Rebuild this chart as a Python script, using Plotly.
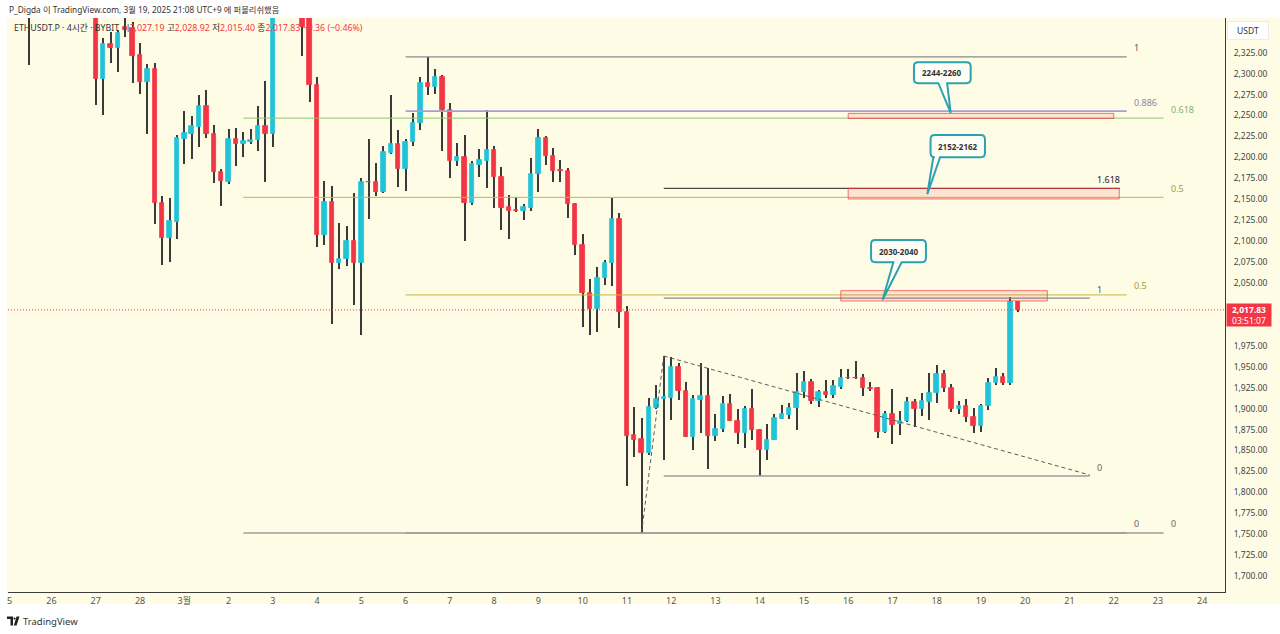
import plotly.graph_objects as go
import pandas as pd

# ---------------- data (4h candles, ETHUSDT.P, BYBIT, UTC+9) ----------------
first_bar = "2025-02-25 08:00"
opens = [
    2430, 2405, 2385, 2420, 2445, 2430, 2410, 2425, 2415, 2400,
    2405, 2294, 2335, 2330, 2356, 2354, 2322, 2290, 2306, 2146,
    2104, 2123, 2222, 2228, 2236, 2261, 2228, 2183, 2171, 2222,
    2216, 2218, 2221, 2238, 2228, 2480, 2510, 2470, 2440, 2368,
    2286, 2107, 2147, 2074, 2079, 2100, 2074, 2171, 2170, 2159,
    2205, 2216, 2186, 2218, 2241, 2289, 2284, 2296, 2256, 2196,
    2201, 2145, 2191, 2196, 2209, 2176, 2141, 2137, 2136, 2140,
    2180, 2223, 2202, 2184.5, 2184, 2144, 2095, 2038, 2019, 2056,
    2074, 2126, 2015, 1868, 1864, 1847, 1901, 1912, 1913, 1950,
    1921, 1866, 1910, 1915, 1867, 1876, 1906, 1885.5, 1870.5, 1899,
    1874.4, 1850.5, 1862.5, 1887.6, 1892.3, 1900.4, 1920.2, 1932.1, 1909.4, 1919.5,
    1916.2, 1926.2, 1936.5, 1936.5, 1936, 1925, 1925, 1872.4, 1893.5, 1881.6,
    1885.5, 1907.6, 1899.1, 1908.2, 1918.3, 1941, 1925, 1899.5, 1903.5, 1890.3,
    1879.6, 1903.1, 1930.2, 1937.4, 1930.2, 2027.19,
]
highs = [
    2445, 2412, 2430, 2460, 2470, 2455, 2440, 2450, 2430, 2425,
    2412, 2342, 2350, 2352, 2368, 2362, 2336, 2311, 2313, 2154,
    2151, 2227, 2255, 2249, 2274, 2280, 2239, 2186, 2234, 2235,
    2230, 2234, 2261, 2291, 2520, 2553, 2525, 2490, 2450, 2380,
    2296, 2172, 2166, 2122, 2118, 2158, 2175, 2222, 2193, 2213,
    2274, 2233, 2222, 2253, 2296, 2320, 2306, 2298, 2265, 2217,
    2227, 2196, 2210, 2257, 2213, 2188, 2155, 2153, 2144, 2199,
    2234, 2225, 2211, 2197, 2187, 2145, 2109, 2055, 2069, 2077,
    2152, 2134, 2023, 1902, 1889, 1913, 1928, 1963, 1962, 1954,
    1932, 1916, 1955, 1948, 1894, 1915, 1918, 1900, 1903, 1923,
    1876, 1882, 1894, 1904, 1907, 1942, 1945, 1935, 1922, 1934,
    1934, 1947, 1947, 1957, 1941, 1932, 1926, 1897.5, 1923, 1897,
    1914, 1911, 1918.3, 1943, 1952, 1946, 1929, 1909, 1911, 1901,
    1905, 1936, 1948, 1942, 2033.6, 2028.92,
]
lows = [
    2395, 2310, 2375, 2405, 2420, 2400, 2390, 2400, 2385, 2380,
    2262, 2251, 2313, 2302, 2344, 2289, 2276, 2228, 2120, 2071,
    2075, 2103, 2192, 2198, 2212, 2223, 2169, 2142, 2168, 2190,
    2200, 2216, 2208, 2171, 2212, 2440, 2450, 2420, 2321, 2266,
    2093, 2095, 2001, 2067, 2070, 2024, 1988, 2126, 2154, 2157,
    2204, 2165, 2160, 2214, 2233, 2275, 2276, 2207, 2175, 2190,
    2100, 2143, 2176, 2164, 2140, 2113, 2103, 2135, 2125, 2136,
    2159, 2191, 2171, 2171, 2127, 2083, 1997, 1988, 1992, 2048,
    2046, 1996, 1808, 1842, 1752, 1845, 1900, 1839, 1886, 1910,
    1866, 1851, 1871, 1828, 1861, 1872, 1885, 1858, 1853, 1863,
    1820, 1839, 1862, 1887, 1887, 1875, 1913, 1906, 1902, 1913,
    1913, 1924, 1935, 1935, 1915, 1921, 1865, 1871, 1858, 1868.5,
    1884, 1877.6, 1891, 1886.4, 1907, 1920, 1896.3, 1893.5, 1884.3, 1871.2,
    1872.4, 1898, 1928, 1928.5, 1928, 2015.40,
]
closes = [
    2405, 2385, 2420, 2445, 2430, 2410, 2425, 2415, 2400, 2405,
    2294, 2335, 2330, 2349, 2353, 2321, 2290, 2306, 2145, 2104,
    2124, 2223, 2229, 2237, 2261, 2228, 2183, 2172, 2222, 2216,
    2219, 2221, 2238, 2228, 2480, 2510, 2470, 2440, 2356, 2286,
    2107, 2147, 2074, 2079, 2100, 2074, 2171, 2170, 2159, 2206,
    2216, 2186, 2218, 2241, 2289, 2284, 2296, 2256, 2196, 2201,
    2146, 2192, 2197, 2209, 2176, 2140, 2136, 2136, 2141, 2180,
    2223, 2202, 2184, 2184, 2144, 2095, 2038, 2019, 2056, 2074,
    2126, 2015, 1867, 1863, 1847, 1902, 1912, 1913.5, 1950, 1921,
    1866.5, 1911, 1915, 1867, 1876, 1906, 1885.5, 1870.5, 1899, 1874.4,
    1850.5, 1863, 1888.4, 1893.2, 1901, 1920.2, 1932.1, 1909.4, 1920.2, 1916.2,
    1927, 1936.9, 1936, 1936, 1925, 1924, 1872.4, 1893.5, 1880.4, 1885.5,
    1907.6, 1899.5, 1909, 1918.3, 1941, 1924.3, 1899.5, 1903.5, 1890.3, 1879.6,
    1903.1, 1930.2, 1937.4, 1930.2, 2027.19, 2017.83,
]
assert len(opens) == len(highs) == len(lows) == len(closes)

last_price = 2017.83
countdown = "03:51:07"
legend_vals = ["2,027.19", "2,028.92", "2,015.40", "2,017.83"]
legend_change = "−9.36 (−0.46%)"

# fib retracement drawings (anchor prices, levels)
fibs = [
    dict(p0=1751.5, p1=2553.0, t0="2025-03-02 08:00", t1="2025-03-23 03:00",
         levels=[0, 0.5, 0.618], labels=["0", "0.5", "0.618"]),
    dict(p0=1751.5, p1=2320.0, t0="2025-03-06 00:00", t1="2025-03-22 07:00",
         levels=[0, 0.5, 0.886, 1], labels=["0", "0.5", "0.886", "1"]),
    dict(p0=1819.5, p1=2031.8, t0="2025-03-11 20:00", t1="2025-03-21 11:00",
         levels=[0, 1], labels=["0", "1"]),
]
ext_level = dict(p0=1819.5, p1=2031.8, level=1.618, label="1.618",
                 t0="2025-03-11 20:00", t1="2025-03-22 03:20", t_label="2025-03-21 11:00")

zones = [  # (start, end, low, high)
    ("2025-03-16 00:00", "2025-03-22 00:00", 2246.5, 2252.5),
    ("2025-03-16 00:00", "2025-03-22 03:00", 2150.3, 2163.0),
    ("2025-03-15 20:00", "2025-03-20 12:00", 2028.5, 2040.8),
]
callouts = [
    dict(text="2244-2260", t0="2025-03-17 11:40", t1="2025-03-18 18:25", lo=2288.5, hi=2313.5,
         tail=("2025-03-18 00:55", "2025-03-18 05:40"), tip=("2025-03-18 07:35", 2253.0)),
    dict(text="2152-2162", t0="2025-03-17 20:40", t1="2025-03-19 02:10", lo=2200.1, hi=2226.7,
         tail=("2025-03-17 22:10", "2025-03-18 01:50"), tip=("2025-03-17 18:55", 2156.0)),
    dict(text="2030-2040", t0="2025-03-16 12:25", t1="2025-03-17 18:10", lo=2074.7, hi=2101.3,
         tail=("2025-03-17 00:30", "2025-03-17 05:00"), tip=("2025-03-16 18:40", 2030.0)),
]
pattern = [("2025-03-11 08:00", 1752.0), ("2025-03-11 20:00", 1962.8), ("2025-03-21 11:00", 1820.7)]

day_ticks = pd.date_range("2025-02-25", "2025-03-24", freq="D")
day_labels = ["3월" if (d.month == 3 and d.day == 1) else str(d.day) for d in day_ticks]
clipped_first_label = "5"   # "25" is cut by the chart's left edge in the reference
price_ticks = [v for v in range(1700, 2326, 25) if v not in (2000, 2025)]

# ---------------- style ----------------
UP, DOWN, WICK = "#22C3D8", "#F23645", "#3a3a3a"
BG = "#FFFCE6"
FONT = "Noto Sans, Noto Sans CJK KR, sans-serif"
level_colors = {"0": "#9e9e9e", "0.5": "#c6b340", "0.618": "#8cc46e", "0.886": "#a79ed2",
                "1": "#8a8a8a", "1.618": "#222222"}
label_colors = {"0": "#666666", "0.5": "#a59a3c", "0.618": "#7fb36a", "0.886": "#8a86a8",
                "1": "#555555", "1.618": "#222222"}
level_widths = {"0": 1.6, "0.5": 1, "0.618": 1, "0.886": 1.6, "1": 1.3, "1.618": 1}

W, H = 1280, 634
ML, MR, MT, MB = 8, 55, 18, 42
def px(x): return (x - ML) / (W - ML - MR)
def py(y): return (H - MB - y) / (H - MT - MB)

times = pd.date_range(first_bar, periods=len(opens), freq="4h")
bar_ms = 4 * 3600 * 1000
colors = [UP if c >= o else DOWN for o, c in zip(opens, closes)]

fig = go.Figure()
fig.add_trace(go.Bar(
    x=times, base=lows, y=[h - l for h, l in zip(highs, lows)],
    width=bar_ms * 0.14, marker=dict(color=WICK, line=dict(width=0)),
    hoverinfo="skip", showlegend=False))
fig.add_trace(go.Bar(
    x=times, base=[min(o, c) for o, c in zip(opens, closes)],
    y=[abs(c - o) for o, c in zip(opens, closes)],
    width=bar_ms * 0.6, marker=dict(color=colors, line=dict(color=colors, width=0.8)),
    hoverinfo="skip", showlegend=False))

shapes = []
annots = []

# cream chart area incl. axes bands
shapes.append(dict(type="rect", xref="paper", yref="paper", x0=px(7), x1=px(W), y0=py(604), y1=1,
                   fillcolor=BG, line=dict(width=0), layer="below"))

# fib levels
for f in fibs:
    for lv, lab in zip(f["levels"], f["labels"]):
        p = f["p0"] + lv * (f["p1"] - f["p0"])
        shapes.append(dict(type="line", xref="x", yref="y", x0=f["t0"], x1=f["t1"], y0=p, y1=p,
                           line=dict(color=level_colors[lab], width=level_widths[lab])))
        annots.append(dict(x=f["t1"], y=p, xref="x", yref="y", text=lab, showarrow=False,
                           xanchor="left", yanchor="middle", xshift=5, yshift=9,
                           font=dict(size=9, color=label_colors[lab], family=FONT)))
p_ext = ext_level["p0"] + ext_level["level"] * (ext_level["p1"] - ext_level["p0"])
shapes.append(dict(type="line", xref="x", yref="y", x0=ext_level["t0"], x1=ext_level["t1"],
                   y0=p_ext, y1=p_ext, line=dict(color=level_colors["1.618"], width=1)))
annots.append(dict(x=ext_level["t_label"], y=p_ext, xref="x", yref="y", text=ext_level["label"],
                   showarrow=False, xanchor="left", yanchor="middle", xshift=5, yshift=9,
                   font=dict(size=9, color=label_colors["1.618"], family=FONT)))

# zones
for t0, t1, lo, hi in zones:
    shapes.append(dict(type="rect", xref="x", yref="y", x0=t0, x1=t1, y0=lo, y1=hi,
                       fillcolor="rgba(242,54,69,0.12)", line=dict(color="rgba(242,54,69,0.7)", width=1)))

# triangle pattern (dashed)
for (ta, pa), (tb, pb) in zip(pattern[:-1], pattern[1:]):
    shapes.append(dict(type="line", xref="x", yref="y", x0=ta, y0=pa, x1=tb, y1=pb,
                       line=dict(color="#5c5c5c", width=1, dash="4px,3px")))

# last price dotted line
shapes.append(dict(type="line", xref="paper", yref="y", x0=0, x1=1, y0=last_price, y1=last_price,
                   line=dict(color=DOWN, width=1, dash="1px,2px")))

# callouts
def ts(t):
    return pd.Timestamp(t).strftime("%Y-%m-%d_%H:%M:%S")

for c in callouts:
    x0, x1 = pd.Timestamp(c["t0"]), pd.Timestamp(c["t1"])
    rx, ry = pd.Timedelta(hours=2.3), 5.0
    yb, yt = c["lo"], c["hi"]
    tb0, tb1 = pd.Timestamp(c["tail"][0]), pd.Timestamp(c["tail"][1])
    tx, tp = pd.Timestamp(c["tip"][0]), c["tip"][1]
    path = (f"M{ts(x0 + rx)},{yt} L{ts(x1 - rx)},{yt} Q{ts(x1)},{yt} {ts(x1)},{yt - ry} "
            f"L{ts(x1)},{yb + ry} Q{ts(x1)},{yb} {ts(x1 - rx)},{yb} "
            f"L{ts(tb1)},{yb} L{ts(tx)},{tp} L{ts(tb0)},{yb} "
            f"L{ts(x0 + rx)},{yb} Q{ts(x0)},{yb} {ts(x0)},{yb + ry} "
            f"L{ts(x0)},{yt - ry} Q{ts(x0)},{yt} {ts(x0 + rx)},{yt} Z")
    shapes.append(dict(type="path", xref="x", yref="y", path=path, fillcolor="#FFFEF4",
                       line=dict(color="#2AA2B0", width=2)))
    annots.append(dict(x=x0 + (x1 - x0) / 2, y=(yb + yt) / 2, xref="x", yref="y", text=f"<b>{c['text']}</b>",
                       showarrow=False, font=dict(size=8, color="#333333", family=FONT)))

# price axis label
annots.append(dict(x=1, y=last_price, xref="paper", yref="y", xanchor="left", yanchor="middle",
                   xshift=1, yshift=-5, width=42, height=20, borderpad=1, bgcolor=DOWN,
                   text=f"<b>{last_price:,.2f}</b><br>{countdown}", showarrow=False, align="center",
                   font=dict(size=8.5, color="white", family=FONT)))
annots.append(dict(x=px(1248), y=py(30), xref="paper", yref="paper", xanchor="center", yanchor="middle",
                   text="USDT", showarrow=False,
                   bgcolor="white", bordercolor="#ececec", borderwidth=1, width=38, height=15,
                   font=dict(size=8.5, color="#333333", family=FONT)))

# clipped first day label at the left edge
annots.append(dict(x=px(9), y=py(600), xref="paper", yref="paper", text=clipped_first_label,
                   showarrow=False, xanchor="center", yanchor="middle",
                   font=dict(size=9, color="#555555", family=FONT)))

# header texts
annots.append(dict(x=px(7), y=py(9), xref="paper", yref="paper", xanchor="left", yanchor="middle",
                   text="P_Digda 이 TradingView.com, 3월 19, 2025 21:08 UTC+9 에 퍼블리쉬했음",
                   showarrow=False, font=dict(size=8.3, color="#333333", family=FONT)))
red = lambda s: f"<span style='color:{DOWN}'>{s}</span>"
legend = ("ETHUSDT.P · 4시간 · BYBIT 시" + red(legend_vals[0]) + " 고" + red(legend_vals[1]) +
          " 저" + red(legend_vals[2]) + " 종" + red(legend_vals[3]) + " " + red(legend_change))
annots.append(dict(x=px(12), y=py(28), xref="paper", yref="paper", xanchor="left", yanchor="middle",
                   text=legend, showarrow=False, font=dict(size=8.8, color="#333333", family=FONT)))

# TradingView footer
annots.append(dict(x=px(21), y=py(621), xref="paper", yref="paper", xanchor="left", yanchor="middle",
                   text="TradingView", showarrow=False, font=dict(size=9.5, color="#333333", family=FONT)))
shapes.append(dict(type="path", xref="paper", yref="paper",
                   path=f"M{px(7)},{py(616.5)} L{px(13)},{py(616.5)} L{px(13)},{py(625.5)} L{px(10.5)},{py(625.5)} "
                        f"L{px(10.5)},{py(619)} L{px(7)},{py(619)} Z",
                   fillcolor="#222", line=dict(width=0)))
shapes.append(dict(type="circle", xref="paper", yref="paper", x0=px(13.4), x1=px(15.6), y0=py(619.6), y1=py(617.4),
                   fillcolor="#222", line=dict(width=0)))
shapes.append(dict(type="path", xref="paper", yref="paper",
                   path=f"M{px(16.5)},{py(616.5)} L{px(19.5)},{py(616.5)} L{px(16.5)},{py(625.5)} L{px(13.8)},{py(625.5)} Z",
                   fillcolor="#222", line=dict(width=0)))

fig.update_layout(
    width=W, height=H, margin=dict(l=ML, r=MR, t=MT, b=MB, pad=0),
    paper_bgcolor="white", plot_bgcolor=BG, barmode="overlay", bargap=0,
    showlegend=False, shapes=shapes, annotations=annots, font=dict(family=FONT),
    xaxis=dict(type="date", range=["2025-02-25 00:24:36", "2025-03-24 12:20:00"],
               tickvals=list(day_ticks), ticktext=day_labels, ticks="", showgrid=False, zeroline=False,
               showline=True, linecolor="#3c3c3c", linewidth=1,
               tickfont=dict(size=9, color="#555555", family=FONT), fixedrange=True),
    yaxis=dict(side="right", range=[1681.0, 2366.4], tickvals=price_ticks, tickformat=",.2f",
               ticks="", showgrid=False, zeroline=False, showline=True, linecolor="#3c3c3c", linewidth=1,
               ticklabelstandoff=6, tickfont=dict(size=8.5, color="#444444", family=FONT), fixedrange=True),
)

fig.write_html("out.html", config={"displayModeBar": False})
